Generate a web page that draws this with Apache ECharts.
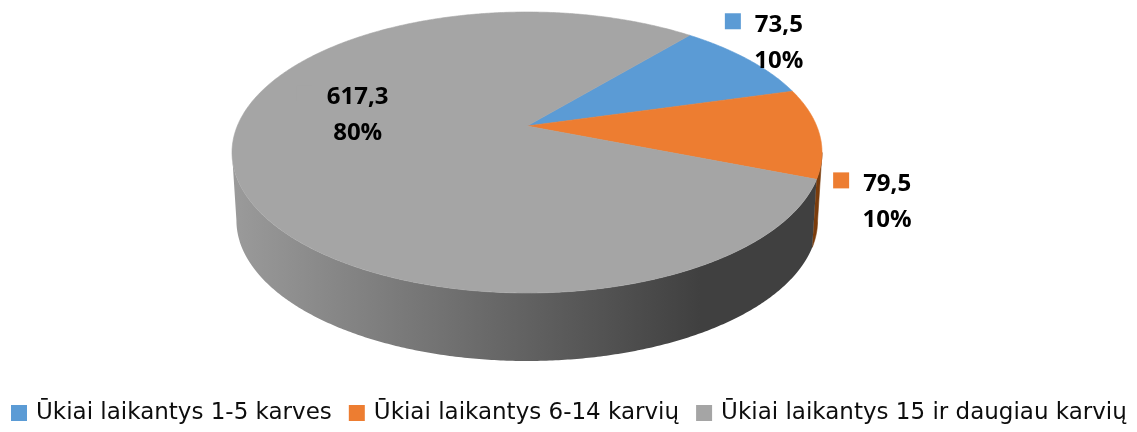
<!DOCTYPE html>
<html><head><meta charset="utf-8">
<script src="https://cdn.jsdelivr.net/npm/echarts@6/dist/echarts.min.js"></script>
<style>html,body{margin:0;padding:0;background:#fff}#c{width:1137px;height:432px}</style>
</head><body><div id="c"></div>
<script>
// ---- data ----
const categories = ['Ūkiai laikantys 1-5 karves', 'Ūkiai laikantys 6-14 karvių', 'Ūkiai laikantys 15 ir daugiau karvių'];
const values = [73.5, 79.5, 617.3];

// ---- style / layout ----
const colors = ['#5B9BD5', '#ED7D31', '#A5A5A5'];
const V = { cx: 527, cy: 126, kx: 289.7, ky: 135.5, persp: -0.1886, depth: 68, bottomScale: 0.985, startAngle: 50 };
const sideFills = [
  '#3a6a96',
  '#7a3c0c',
  { type: 'linear', x: 230, y: 0, x2: 700, y2: 0, global: true,
    colorStops: [{ offset: 0, color: '#9b9b9b' }, { offset: 1, color: '#404040' }] }
];
const labelLayout = [ { r: 1, dx: 31, dy: -16.4 }, { r: 1, dx: 68, dy: 69.1 }, { r: 0.6, dx: 4, dy: -31 } ];
const LABEL_FONT = { size: 24, family: '"Open Sans"', weight: 'bold', lineGap: 36 };

// ---- derived geometry from values ----
const total = values.reduce((a, b) => a + b, 0);
const startAngles = [], endAngles = [];
let acc = V.startAngle;
values.forEach(v => { startAngles.push(acc); acc -= v / total * 360; endAngles.push(acc); });
const fmtVal = v => v.toFixed(1).replace('.', ',');
const fmtPct = v => Math.round(v / total * 100) + '%';

function proj(deg, r) {
  const t = deg * Math.PI / 180;
  const X = r * Math.cos(t), Yd = -r * Math.sin(t);
  const w = 1 + V.persp * Yd;
  return [V.cx + V.kx * X / w, V.cy + V.ky * Yd / w];
}
function arc(a0, a1, r) {
  const n = Math.max(2, Math.ceil(Math.abs(a0 - a1) / 0.5));
  const pts = [];
  for (let k = 0; k <= n; k++) pts.push(proj(a0 + (a1 - a0) * k / n, r));
  return pts;
}
const frontHi = -Math.asin(-V.persp) * 180 / Math.PI;   // right silhouette
const frontLo = -180 - frontHi;                           // left silhouette
function visibleSide(a0, a1) {
  const out = [];
  for (let s = -720; s <= 360; s += 360) {
    const lo = Math.max(a1, frontLo + s), hi = Math.min(a0, frontHi + s);
    if (lo < hi) out.push([hi, lo]);
  }
  return out;
}
const mctx = document.createElement('canvas').getContext('2d');
function textWidth(t) {
  mctx.font = LABEL_FONT.weight + ' ' + LABEL_FONT.size + 'px ' + LABEL_FONT.family;
  return mctx.measureText(t).width;
}

function renderSlice(i, api) {
  const v = api.value(0);
  const a0 = startAngles[i], a1 = endAngles[i];
  const children = [];
  visibleSide(a0, a1).forEach(([hi, lo]) => {
    const top = arc(hi, lo, 1);
    const bot = top.slice().reverse().map(p => [V.cx + (p[0] - V.cx) * V.bottomScale, p[1] + V.depth]);
    children.push({ type: 'polygon', z2: 1, shape: { points: top.concat(bot) },
      style: { fill: sideFills[i], stroke: typeof sideFills[i] === 'string' ? sideFills[i] : null, lineWidth: 0.6 } });
  });
  children.push({ type: 'polygon', z2: 5, shape: { points: [proj(0, 0)].concat(arc(a0, a1, 1)) },
    style: { fill: colors[i], stroke: colors[i], lineWidth: 0.6 } });
  // data label
  const L = labelLayout[i];
  const m = proj((a0 + a1) / 2, L.r);
  const tx = m[0] + L.dx, ty = m[1] + L.dy;
  const line1 = fmtVal(v), line2 = fmtPct(v);
  const y1 = ty - LABEL_FONT.lineGap / 2, y2 = ty + LABEL_FONT.lineGap / 2;
  const ts = { fontSize: LABEL_FONT.size, fontFamily: 'Open Sans', fontWeight: 'bold', fill: '#000', align: 'center', verticalAlign: 'middle' };
  children.push({ type: 'text', z2: 20, style: Object.assign({ text: line1, x: tx, y: y1 }, ts) });
  children.push({ type: 'text', z2: 20, style: Object.assign({ text: line2, x: tx, y: y2 }, ts) });
  const w1 = textWidth(line1);
  children.push({ type: 'rect', z2: 20, shape: { x: tx - w1 / 2 - 14 - 16, y: y1 - 3.7 - 8, width: 16, height: 16 },
    style: { fill: colors[i] } });
  return { type: 'group', children };
}

const chart = echarts.init(document.getElementById('c'), null, { renderer: 'canvas' });
chart.setOption({
  animation: false,
  backgroundColor: '#fff',
  color: colors,
  legend: {
    left: 11, top: 401, padding: 0, itemWidth: 16, itemHeight: 16, itemGap: 17, icon: 'rect',
    selectedMode: false,
    textStyle: { fontFamily: 'DejaVu Sans', fontSize: 23, color: '#0d0d0d', lineHeight: 24, padding: [0, 0, 0, 4] },
    data: categories
  },
  series: categories.map((name, i) => ({
    type: 'custom', name, coordinateSystem: 'none', silent: true,
    itemStyle: { color: colors[i] },
    data: [values[i]],
    renderItem: (params, api) => renderSlice(i, api)
  }))
});
</script></body></html>
